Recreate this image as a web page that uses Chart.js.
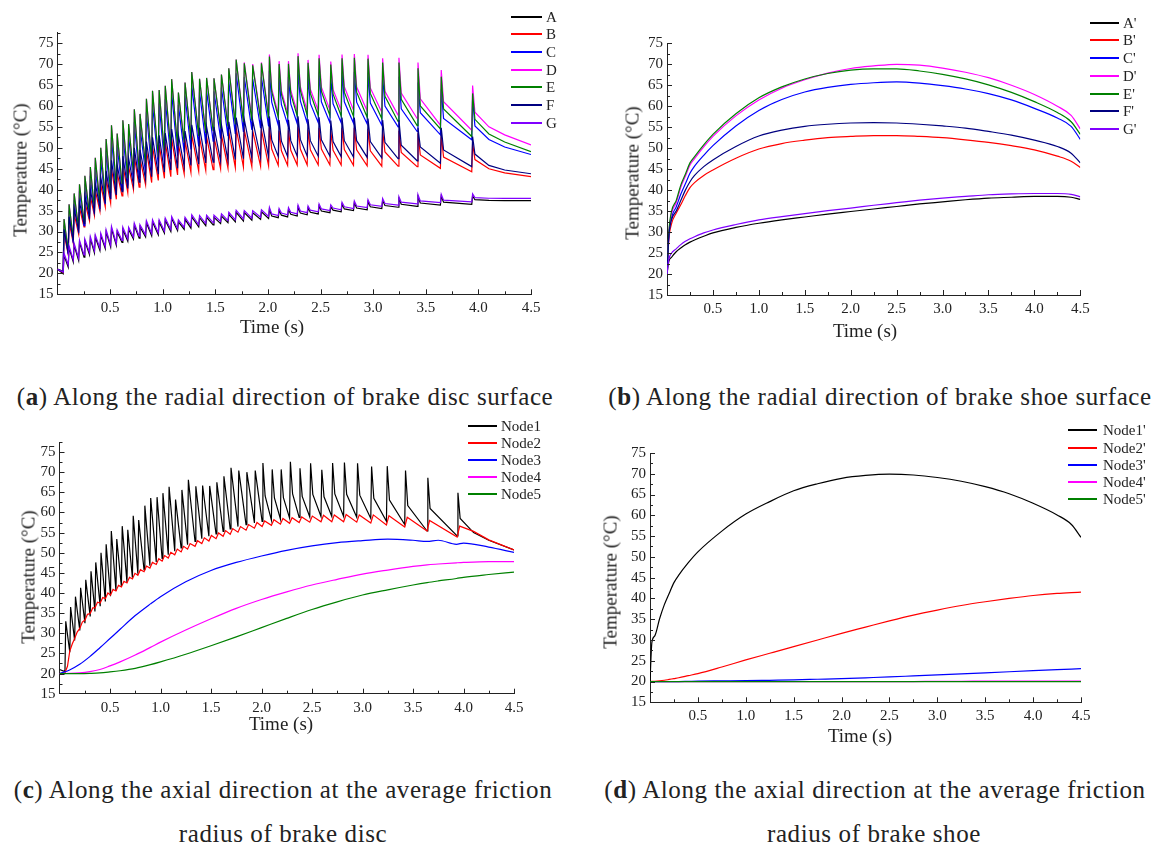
<!DOCTYPE html>
<html>
<head>
<meta charset="utf-8">
<script src="https://cdn.jsdelivr.net/npm/chart.js@4.4.1/dist/chart.umd.min.js"></script>
<style>
  body { margin: 0; background: #fff; }
  #page { position: relative; width: 1155px; height: 845px; overflow: hidden; font-family: 'Liberation Serif', serif; color: #222; }
  canvas { position: absolute; }
  .lbl { position: absolute; white-space: nowrap; line-height: 1; transform: translate(-50%, -50%); }
  .ytitle { transform: translate(-50%, -50%) rotate(-90deg); font-size: 19px; }
  .xtitle { font-size: 19px; }
  .cap { font-size: 25px; letter-spacing: 0.6px; }
  .leg { position: absolute; font-size: 15px; line-height: 1; white-space: nowrap; }
</style>
</head>
<body>
<div id="page">
  <canvas id="chartA" width="580" height="345" style="left:0px;top:0px"></canvas>
  <canvas id="chartB" width="565" height="345" style="left:590px;top:0px"></canvas>
  <canvas id="chartC" width="580" height="330" style="left:0px;top:420px"></canvas>
  <canvas id="chartD" width="565" height="330" style="left:590px;top:420px"></canvas>

  <div class="lbl ytitle" style="left:20px;top:170px">Temperature (°C)</div>
  <div class="lbl ytitle" style="left:632px;top:173px">Temperature (°C)</div>
  <div class="lbl ytitle" style="left:28px;top:577px">Temperature (°C)</div>
  <div class="lbl ytitle" style="left:610px;top:582px">Temperature (°C)</div>

  <div class="lbl xtitle" style="left:272px;top:326px">Time (s)</div>
  <div class="lbl xtitle" style="left:865px;top:330px">Time (s)</div>
  <div class="lbl xtitle" style="left:281px;top:723px">Time (s)</div>
  <div class="lbl xtitle" style="left:860px;top:735px">Time (s)</div>

  <div class="lbl cap" style="left:285px;top:396px">(<b>a</b>) Along the radial direction of brake disc surface</div>
  <div class="lbl cap" style="left:880px;top:396px">(<b>b</b>) Along the radial direction of brake shoe surface</div>
  <div class="lbl cap" style="left:283px;top:789px">(<b>c</b>) Along the axial direction at the average friction</div>
  <div class="lbl cap" style="left:283px;top:833px">radius of brake disc</div>
  <div class="lbl cap" style="left:875px;top:789px">(<b>d</b>) Along the axial direction at the average friction</div>
  <div class="lbl cap" style="left:874px;top:833px">radius of brake shoe</div>
</div>

<script>
// spike (contact) times, shared by the disc surface curves
var spikeT = [0.054, 0.102, 0.150, 0.201, 0.252, 0.304, 0.351, 0.403, 0.454, 0.505,
  0.559, 0.613, 0.668, 0.722, 0.776, 0.837, 0.895, 0.958, 1.016, 1.077,
  1.141, 1.204, 1.268, 1.342, 1.409, 1.479, 1.550, 1.620, 1.690, 1.767,
  1.847, 1.930, 2.006, 2.098, 2.187, 2.278, 2.373, 2.478, 2.589, 2.696,
  2.813, 2.943, 3.082, 3.237, 3.418, 3.639, 3.937]
var tailT = [4.1, 4.25]

// panel (a): value just before each spike (low), spike peak (top), early decay (knee, last 15 spikes)
var aLow = [19.9, 21.5, 22.7, 23.1, 23.9, 24.5, 24.9, 25.5, 25.9, 26.3, 26.7, 27.4, 27.7, 28.2, 28.4, 28.7, 29.0, 29.2, 29.6, 30.0, 30.2, 30.5, 30.8, 31.1, 31.4, 31.6, 31.9, 32.1, 32.3, 32.5, 32.7, 32.9, 33.1, 33.3, 33.5, 33.7, 34.0, 34.2, 34.5, 34.7, 35.0, 35.2, 35.5, 35.8, 36.0, 36.3, 36.5]
var aTop = [24.3, 26.1, 26.7, 27.4, 27.7, 28.3, 28.7, 29.1, 29.9, 30.7, 29.9, 30.5, 30.5, 31.5, 31.1, 32.1, 32.3, 32.3, 32.7, 33.1, 32.3, 32.9, 33.5, 33.3, 33.4, 33.4, 33.7, 34.1, 34.6, 34.5, 34.5, 34.7, 35.3, 35.0, 35.2, 35.8, 35.6, 36.1, 35.9, 36.5, 36.8, 37.1, 37.4, 37.8, 38.3, 38.4, 38.5]
var aKnee = [33.7, 33.9, 34.1, 34.4, 34.6, 34.9, 35.1, 35.4, 35.6, 35.9, 36.2, 36.5, 36.8, 37.0, 37.6]
var aTail = [37.45, 37.4]

var bLow = [20.2, 24.5, 27.2, 29.4, 31.1, 32.6, 33.8, 34.9, 35.9, 36.8, 37.7, 38.5, 39.3, 40.0, 40.6, 41.2, 41.7, 42.2, 42.7, 43.1, 43.5, 43.8, 44.1, 44.4, 44.6, 44.8, 45.0, 45.2, 45.3, 45.4, 45.5, 45.6, 45.7, 45.8, 45.8, 45.9, 45.9, 45.9, 45.9, 45.9, 45.8, 45.7, 45.6, 45.6, 45.5, 45.1, 44.3]
var bTop = [29.5, 32.3, 34.2, 35.6, 37.0, 38.4, 39.8, 41.2, 42.6, 45.0, 44.0, 46.0, 45.5, 48.0, 47.4, 49.4, 50.3, 50.8, 51.3, 52.2, 50.8, 51.7, 53.1, 52.4, 52.6, 52.6, 53.1, 53.8, 54.7, 54.3, 54.1, 54.3, 55.0, 54.1, 54.2, 55.0, 54.3, 54.8, 54.0, 54.7, 54.7, 54.5, 54.1, 54.1, 53.5, 53.1, 51.1]
var bKnee = [49.7, 49.3, 49.4, 49.7, 49.5, 49.7, 49.4, 49.6, 49.5, 49.3, 49.0, 48.9, 48.3, 47.8, 47.2]
var bTail = [45.0, 44.0]

var cLow = [20.4, 24.5, 27.3, 29.7, 31.4, 33.0, 34.2, 35.4, 36.5, 37.7, 38.9, 39.9, 41.0, 42.0, 43.0, 43.9, 44.8, 45.7, 46.5, 47.3, 48.1, 48.9, 49.6, 50.3, 51.0, 51.6, 52.2, 52.8, 53.3, 53.8, 54.3, 54.7, 55.1, 55.4, 55.6, 55.8, 55.9, 56.0, 56.0, 56.0, 55.9, 55.7, 55.4, 55.0, 53.9, 53.1, 51.9]
var cTop = [31.5, 35.0, 37.5, 39.6, 41.4, 43.3, 45.3, 47.5, 49.4, 52.5, 50.6, 53.6, 52.8, 56.1, 55.1, 58.5, 60.4, 60.6, 61.6, 63.2, 60.2, 62.5, 64.9, 63.4, 63.6, 63.5, 64.4, 65.8, 67.8, 66.9, 66.5, 66.9, 68.4, 66.8, 66.9, 68.5, 67.0, 68.0, 66.7, 68.0, 68.1, 67.9, 67.1, 67.0, 65.6, 64.0, 61.9]
var cKnee = [60.9, 60.3, 60.5, 61.2, 60.6, 61.0, 60.5, 61.0, 60.9, 60.7, 60.0, 59.3, 58.4, 57.0, 55.2]
var cTail = [52.0, 50.2]

var dLow = [20.5, 25.3, 28.2, 30.7, 32.5, 34.2, 35.4, 36.7, 37.9, 39.2, 40.5, 41.5, 42.7, 43.8, 44.8, 45.8, 46.8, 47.7, 48.6, 49.5, 50.4, 51.2, 52.0, 52.8, 53.5, 54.1, 54.7, 55.3, 55.9, 56.5, 57.0, 57.4, 57.8, 58.1, 58.4, 58.6, 58.8, 58.9, 59.0, 59.0, 59.0, 58.8, 58.5, 57.8, 57.0, 55.4, 54.2]
var dTop = [33.0, 36.5, 39.1, 41.3, 43.3, 45.4, 47.6, 50.0, 52.1, 55.4, 53.4, 56.6, 55.7, 59.2, 58.1, 61.7, 63.6, 63.8, 64.8, 66.4, 63.2, 65.6, 68.1, 66.5, 66.7, 66.6, 67.5, 69.0, 71.1, 70.4, 70.0, 70.4, 72.3, 70.7, 70.7, 72.6, 71.0, 72.2, 70.6, 72.3, 72.4, 72.2, 71.4, 71.5, 70.4, 68.6, 64.9]
var dKnee = [64.1, 63.6, 63.7, 64.6, 64.0, 64.5, 63.9, 64.6, 64.5, 64.3, 63.5, 63.1, 61.7, 61.0, 58.5]
var dTail = [55.0, 53.1]

var eLow = [20.5, 25.3, 28.2, 30.7, 32.5, 34.2, 35.4, 36.7, 37.9, 39.2, 40.5, 41.5, 42.7, 43.8, 44.8, 45.8, 46.8, 47.7, 48.6, 49.5, 50.4, 51.2, 52.0, 52.8, 53.5, 54.1, 54.6, 55.1, 55.6, 56.1, 56.5, 56.8, 57.1, 57.3, 57.5, 57.6, 57.7, 57.7, 57.7, 57.6, 57.5, 57.3, 57.0, 56.3, 55.3, 54.5, 52.7]
var eTop = [33.0, 36.5, 39.1, 41.3, 43.3, 45.4, 47.6, 50.0, 52.1, 55.4, 53.4, 56.6, 55.7, 59.2, 58.1, 61.7, 63.6, 63.8, 64.8, 66.4, 63.2, 65.6, 68.1, 66.5, 66.7, 66.6, 67.5, 69.0, 71.1, 70.2, 69.7, 70.2, 71.8, 70.0, 70.1, 71.9, 70.3, 71.4, 69.9, 71.4, 71.5, 71.3, 70.4, 70.4, 69.0, 67.0, 63.0]
var eKnee = [63.4, 62.8, 62.9, 63.7, 63.0, 63.5, 62.8, 63.3, 63.3, 63.0, 62.3, 61.6, 60.0, 59.3, 56.8]
var eTail = [53.3, 51.4]

var fLow = [20.3, 24.8, 27.8, 30.2, 31.9, 33.5, 34.7, 35.8, 36.8, 37.8, 38.7, 39.5, 40.3, 41.1, 41.8, 42.5, 43.1, 43.7, 44.2, 44.7, 45.1, 45.5, 45.8, 46.1, 46.4, 46.6, 46.8, 47.0, 47.2, 47.4, 47.5, 47.6, 47.8, 47.9, 47.9, 48.0, 48.0, 48.0, 48.0, 47.9, 47.8, 47.7, 47.6, 47.4, 46.9, 46.3, 45.5]
var fTop = [30.5, 33.5, 35.5, 37.0, 38.5, 40.0, 41.5, 43.0, 44.5, 47.0, 46.0, 48.0, 47.5, 50.0, 49.5, 51.5, 52.5, 53.0, 53.5, 54.5, 53.0, 54.0, 55.5, 54.8, 55.0, 55.0, 55.5, 56.2, 57.2, 56.8, 56.6, 56.8, 57.5, 56.6, 56.7, 57.5, 56.8, 57.3, 56.5, 57.2, 57.2, 57.0, 56.6, 56.6, 54.8, 54.8, 52.7]
var fKnee = [51.9, 51.6, 51.7, 52.0, 51.7, 51.9, 51.5, 51.7, 51.7, 51.5, 51.3, 50.6, 50.2, 49.5, 48.5]
var fTail = [45.8, 44.7]

var gLow = [20.3, 22.0, 23.2, 23.6, 24.4, 25.0, 25.4, 26.0, 26.4, 26.8, 27.2, 27.9, 28.2, 28.7, 28.9, 29.2, 29.5, 29.7, 30.1, 30.5, 30.7, 31.0, 31.3, 31.6, 31.9, 32.1, 32.4, 32.6, 32.8, 33.0, 33.2, 33.4, 33.6, 33.8, 34.0, 34.2, 34.5, 34.7, 35.0, 35.2, 35.5, 35.7, 36.0, 36.3, 36.6, 36.9, 37.1]
var gTop = [24.8, 26.6, 27.2, 27.9, 28.2, 28.8, 29.2, 29.6, 30.4, 31.2, 30.4, 31.0, 31.0, 32.0, 31.6, 32.6, 32.8, 32.8, 33.2, 33.6, 32.8, 33.4, 34.0, 33.8, 33.9, 33.9, 34.2, 34.6, 35.1, 35.0, 35.0, 35.2, 35.8, 35.5, 35.7, 36.3, 36.1, 36.6, 36.4, 37.0, 37.3, 37.6, 37.9, 38.3, 38.8, 38.9, 39.0]
var gKnee = [34.2, 34.4, 34.6, 34.9, 35.1, 35.4, 35.6, 35.9, 36.1, 36.4, 36.7, 37.0, 37.3, 37.5, 38.1]
var gTail = [37.95, 37.9]

// start and end values of the (a) curves, order A..G
var aStart = [21.0, 21.0, 21.0, 21.0, 21.0, 21.0, 21.0]
var aEnd = [37.4, 43.1, 48.4, 50.7, 49.1, 43.8, 37.9]

// panel (b): brake shoe surface, smooth curves
var bT = [0, 0.02, 0.05, 0.1, 0.15, 0.2, 0.25, 0.3, 0.4, 0.5, 0.75, 1.0, 1.25, 1.5, 1.75, 2.0, 2.25, 2.5, 2.75, 3.0, 3.25, 3.5, 3.75, 4.0, 4.25, 4.4, 4.5]
var shoeA = [20, 23.0, 24.0, 25.3, 26.2, 27.0, 27.6, 28.1, 29.0, 29.8, 31.1, 32.1, 32.9, 33.6, 34.3, 34.9, 35.5, 36.1, 36.7, 37.2, 37.7, 38.1, 38.3, 38.5, 38.5, 38.3, 37.8]
var shoeB = [20, 28.2, 32.0, 34.5, 36.5, 38.7, 40.6, 41.8, 43.5, 44.8, 47.6, 49.8, 51.1, 51.9, 52.5, 52.8, 53.0, 53.0, 52.8, 52.5, 52.0, 51.4, 50.6, 49.6, 48.1, 46.9, 45.4]
var shoeC = [20, 29.0, 33.5, 36.0, 39.0, 41.5, 44.0, 45.7, 48.3, 50.6, 55.3, 59.0, 61.6, 63.4, 64.5, 65.2, 65.6, 65.8, 65.5, 64.9, 64.1, 63.0, 61.5, 59.5, 57.2, 55.2, 52.1]
var shoeD = [20, 29.5, 34.5, 37.0, 40.7, 43.3, 46.0, 47.5, 50.3, 52.8, 57.7, 61.5, 64.3, 66.3, 67.9, 69.0, 69.6, 70.0, 69.8, 69.1, 68.1, 66.8, 65.0, 62.8, 60.0, 57.8, 54.6]
var shoeE = [20, 30.0, 35.0, 37.5, 41.2, 43.8, 46.5, 48.0, 50.8, 53.3, 58.2, 62.0, 64.6, 66.5, 67.8, 68.6, 68.9, 68.9, 68.4, 67.6, 66.5, 65.1, 63.3, 61.1, 58.5, 56.3, 53.3]
var shoeF = [20, 29.0, 33.0, 35.0, 37.5, 40.0, 42.0, 43.5, 45.6, 47.2, 50.4, 52.9, 54.3, 55.2, 55.7, 56.0, 56.1, 56.0, 55.7, 55.3, 54.8, 54.0, 53.1, 51.9, 50.4, 48.8, 46.5]
var shoeG = [20, 23.5, 25.0, 26.0, 27.0, 27.8, 28.4, 28.9, 29.8, 30.5, 31.8, 32.9, 33.7, 34.4, 35.1, 35.7, 36.4, 37.0, 37.6, 38.1, 38.5, 38.9, 39.1, 39.2, 39.2, 39.0, 38.4]

// panel (c): axial nodes of the disc
var node2Low = [20.2, 25.6, 28.7, 31.2, 33.3, 34.9, 36.3, 37.5, 38.6, 39.5, 40.5, 41.5, 42.5, 43.5, 44.4, 45.3, 46.2, 47.1, 47.9, 48.7, 49.5, 50.2, 50.9, 51.6, 52.3, 52.9, 53.5, 54.1, 54.6, 55.1, 55.6, 56.1, 56.5, 56.8, 57.1, 57.3, 57.5, 57.6, 57.7, 57.7, 57.7, 57.6, 57.4, 56.9, 56.4, 55.4, 53.9]
var node2Top = [21.8, 27.4, 30.3, 32.8, 34.7, 36.3, 37.7, 38.9, 40.0, 40.9, 41.9, 42.9, 43.9, 44.9, 45.8, 46.7, 47.6, 48.5, 49.3, 50.1, 50.9, 51.6, 52.3, 53.0, 53.7, 54.3, 54.9, 55.5, 56.0, 56.5, 57.0, 57.5, 57.9, 58.2, 58.5, 58.7, 58.9, 59.1, 59.3, 59.4, 59.5, 59.4, 59.4, 59.2, 58.8, 58.0, 56.6]
var node2Tail = [55.3, 53.2]
var cT = [0, 0.1, 0.2, 0.3, 0.4, 0.5, 0.6, 0.75, 0.9, 1.0, 1.25, 1.5, 1.75, 2.0, 2.25, 2.5, 2.75, 3.0, 3.25, 3.5, 3.64, 3.75, 3.93, 4.0, 4.25, 4.5]
var node3 = [20, 20.9, 22.3, 24.2, 26.4, 28.7, 31.0, 34.4, 37.3, 39.1, 42.8, 45.6, 47.6, 49.2, 50.6, 51.7, 52.5, 53.0, 53.4, 53.1, 52.8, 53.1, 52.1, 52.4, 51.4, 50.1]
var node4 = [20, 20.05, 20.2, 20.5, 21.0, 21.9, 22.9, 24.6, 26.5, 27.8, 30.8, 33.6, 36.2, 38.4, 40.3, 42.0, 43.4, 44.7, 45.7, 46.6, 47.0, 47.2, 47.5, 47.6, 47.8, 47.8]
var node5 = [20, 20, 20, 20.05, 20.15, 20.4, 20.7, 21.3, 22.2, 22.9, 24.8, 26.9, 29.1, 31.4, 33.7, 35.9, 37.8, 39.5, 40.8, 42.0, 42.6, 43.0, 43.6, 43.9, 44.6, 45.2]

// panel (d): axial nodes of the shoe (times as bT)
var shoeNode1 = [20, 29.5, 31.0, 35.1, 38.5, 41.2, 43.8, 45.6, 48.6, 51.2, 56.2, 60.3, 63.3, 65.9, 67.6, 68.9, 69.6, 69.9, 69.7, 69.1, 68.2, 66.9, 65.2, 62.9, 60.1, 57.8, 54.7]
var shoeNode2 = [20, 20.02, 20.05, 20.15, 20.3, 20.5, 20.7, 20.9, 21.4, 21.9, 23.5, 25.2, 26.8, 28.4, 30.0, 31.6, 33.1, 34.6, 36.0, 37.2, 38.3, 39.2, 40.0, 40.7, 41.2, 41.4, 41.5]
var shoeNode3 = [20, 20, 20, 20, 20, 20, 20, 20, 20.05, 20.1, 20.15, 20.2, 20.3, 20.4, 20.55, 20.7, 20.9, 21.1, 21.35, 21.6, 21.85, 22.1, 22.35, 22.6, 22.85, 23.0, 23.1]
var shoeNode4 = [20, 20, 20, 20, 20, 20, 20, 20, 20, 20, 20, 20, 20, 20, 20, 20, 20, 20, 20, 20.05, 20.05, 20.1, 20.1, 20.1, 20.1, 20.1, 20.1]
var shoeNode5 = [20, 20, 20, 20, 20, 20, 20, 20, 20, 20, 20, 20, 20, 20, 20, 20, 20, 20, 20, 20, 20, 20, 20, 20, 20, 20, 20]

var discLabels = ['A', 'B', 'C', 'D', 'E', 'F', 'G']
var shoeLabels = ["A'", "B'", "C'", "D'", "E'", "F'", "G'"]
var nodeLabels = ['Node1', 'Node2', 'Node3', 'Node4', 'Node5']
var shoeNodeLabels = ["Node1'", "Node2'", "Node3'", "Node4'", "Node5'"]

var pointColors = ['#000000', '#ff0000', '#0000ff', '#ff00ff', '#008000', '#000080', '#8000ff']
var nodeColors = ['#000000', '#ff0000', '#0000ff', '#ff00ff', '#008000']

var RISE = 0.008
var KNEE_DT = 0.03
var KNEE_FROM = 32

function sawtooth(low, top, knee, tail, start, end, rise) {
    var pts = [{x: 0, y: start}]
    spikeT.forEach(function (t, i) {
        pts.push({x: t, y: low[i]})
        pts.push({x: t + rise, y: top[i]})
        if (knee && i >= KNEE_FROM) pts.push({x: t + KNEE_DT, y: knee[i - KNEE_FROM]})
    })
    tailT.forEach(function (t, j) { pts.push({x: t, y: tail[j]}) })
    pts.push({x: 4.5, y: end})
    return pts
}

function curve(ts, vs) {
    return ts.map(function (t, i) { return {x: t, y: vs[i]} })
}

var FONT = "'Liberation Serif', 'Times New Roman', serif"

// inward major/minor tick marks, placed through the chart's own scales
var inTicks = {
    id: 'inTicks',
    afterDraw: function (chart) {
        var ctx = chart.ctx, a = chart.chartArea, x = chart.scales.x, y = chart.scales.y
        ctx.save()
        ctx.strokeStyle = '#222'
        ctx.lineWidth = 1
        ctx.beginPath()
        for (var k = 1; k <= 18; k++) {
            var px = Math.round(x.getPixelForValue(k * 0.25)) + 0.5
            var len = k % 2 === 0 ? 5 : 3
            ctx.moveTo(px, a.bottom)
            ctx.lineTo(px, a.bottom - len)
        }
        for (var v = 17.5; v <= y.max + 0.01; v += 2.5) {
            var py = Math.round(y.getPixelForValue(v)) + 0.5
            var l2 = Math.abs(v % 5) < 0.01 ? 5 : 3
            ctx.moveTo(a.left, py)
            ctx.lineTo(a.left + l2, py)
        }
        ctx.stroke()
        ctx.restore()
    }
}

function createGraph(id, datasets, yMax, yWidth, pad) {
    var ctx = document.getElementById(id).getContext('2d')
    return new Chart(ctx, {
        type: 'line',
        data: { datasets: datasets },
        plugins: [inTicks],
        options: {
            responsive: false,
            animation: false,
            events: [],
            layout: { padding: pad },
            plugins: { legend: { display: false }, tooltip: { enabled: false } },
            elements: { point: { radius: 0 }, line: { borderWidth: 1.2, tension: 0 } },
            scales: {
                x: {
                    type: 'linear', min: 0, max: 4.5,
                    afterFit: function (s) { s.height = 30 },
                    grid: { display: false, drawTicks: false },
                    border: { display: true, color: '#222', width: 1 },
                    ticks: {
                        stepSize: 0.5, padding: 5, color: '#222', maxRotation: 0, autoSkip: false,
                        includeBounds: false,
                        font: { family: FONT, size: 15 },
                        callback: function (v) { return v === 0 ? '' : v.toFixed(1) }
                    }
                },
                y: {
                    type: 'linear', min: 15, max: yMax,
                    afterFit: function (s) { s.width = yWidth },
                    grid: { display: false, drawTicks: false },
                    border: { display: true, color: '#222', width: 1 },
                    ticks: {
                        stepSize: 5, padding: 4, color: '#222', includeBounds: false, autoSkip: false,
                        font: { family: FONT, size: 15 }
                    }
                }
            }
        }
    })
}

function lineSet(label, data, color, order, smooth) {
    var ds = { label: label, data: data, borderColor: color, backgroundColor: color, fill: false, order: order }
    if (smooth) ds.cubicInterpolationMode = 'monotone'
    return ds
}

function addLegend(labels, colors, lineLeft, lineRight, textLeft, top, step) {
    var page = document.getElementById('page')
    labels.forEach(function (name, i) {
        var cy = Math.round(top + i * step)
        var ln = document.createElement('div')
        ln.style.cssText = 'position:absolute;left:' + lineLeft + 'px;top:' + (cy - 1) + 'px;width:' + (lineRight - lineLeft) + 'px;height:2px;background:' + colors[i]
        page.appendChild(ln)
        var tx = document.createElement('div')
        tx.className = 'leg'
        tx.style.left = textLeft + 'px'
        tx.style.top = (cy - 7.5) + 'px'
        tx.textContent = name
        page.appendChild(tx)
    })
}

// (a) brake disc surface, radial
var discSeries = [
    [aLow, aTop, aKnee, aTail], [bLow, bTop, bKnee, bTail], [cLow, cTop, cKnee, cTail],
    [dLow, dTop, dKnee, dTail], [eLow, eTop, eKnee, eTail], [fLow, fTop, fKnee, fTail],
    [gLow, gTop, gKnee, gTail]
]
createGraph('chartA', discSeries.map(function (s, i) {
    return lineSet(discLabels[i], sawtooth(s[0], s[1], s[2], s[3], aStart[i], aEnd[i], RISE), pointColors[i], 7 - i, false)
}), 77.5, 57.5, { left: 0, right: 49, top: 32.7, bottom: 20.7 })

// (b) brake shoe surface, radial
var shoeSeries = [shoeA, shoeB, shoeC, shoeD, shoeE, shoeF, shoeG]
createGraph('chartB', shoeSeries.map(function (vs, i) {
    return lineSet(shoeLabels[i], curve(bT, vs), pointColors[i], 7 - i, true)
}), 75, 77, { left: 0, right: 74.7, top: 43.3, bottom: 20 })

// (c) disc, axial (Node1 is the surface point D)
createGraph('chartC', [
    lineSet(nodeLabels[0], sawtooth(dLow, dTop, dKnee, dTail, 21.0, 50.7, RISE), nodeColors[0], 5, false),
    lineSet(nodeLabels[1], sawtooth(node2Low, node2Top, null, node2Tail, 20.0, 50.7, 0.025), nodeColors[1], 4, false),
    lineSet(nodeLabels[2], curve(cT, node3), nodeColors[2], 3, true),
    lineSet(nodeLabels[3], curve(cT, node4), nodeColors[3], 2, true),
    lineSet(nodeLabels[4], curve(cT, node5), nodeColors[4], 1, true)
], 77.5, 59.5, { left: 0, right: 66, top: 22, bottom: 26.3 })

// (d) shoe, axial
var shoeNodes = [shoeNode1, shoeNode2, shoeNode3, shoeNode4, shoeNode5]
createGraph('chartD', shoeNodes.map(function (vs, i) {
    return lineSet(shoeNodeLabels[i], curve(bT, vs), nodeColors[i], 5 - i, true)
}), 75, 60, { left: 0, right: 74, top: 33, bottom: 17.7 })

addLegend(discLabels, pointColors, 511, 542, 546, 16.7, 17.67)
addLegend(shoeLabels, pointColors, 1090, 1119, 1123, 22.7, 17.7)
addLegend(nodeLabels, nodeColors, 468, 497, 501, 425.7, 17)
addLegend(shoeNodeLabels, nodeColors, 1068, 1097, 1103, 430.3, 17.25)
</script>
</body>
</html>
